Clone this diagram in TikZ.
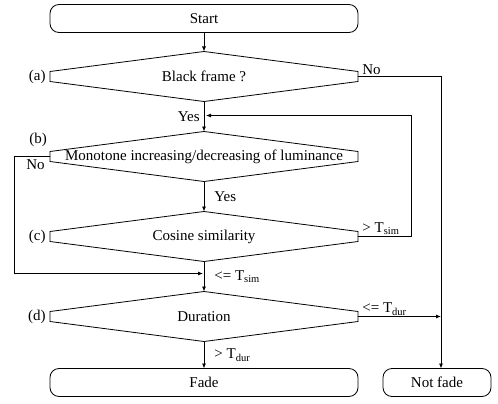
\documentclass[tikz,border=0pt]{standalone}
\usepackage{fontspec}
\setmainfont{Liberation Serif}
\usetikzlibrary{arrows.meta,positioning}
\tikzset{%
   term/.style={draw, rounded corners=9pt, minimum width=308pt, minimum height=28pt, inner sep=0pt, outer sep=0pt},
   test/.style={minimum width=308pt, minimum height=50pt, inner sep=0pt, outer sep=0pt},
   lbl/.style={inner sep=1pt},
   arr/.style={-{Latex[length=5pt,width=4pt]}},
}
\newcommand{\Tsub}[1]{T\textsubscript{#1}}

\begin{document}
\begin{tikzpicture}[font=\fontsize{15}{18}\selectfont, line width=0.8pt, node distance=30pt]
      \useasboundingbox (0,0) rectangle (498pt,-404pt);
      \node[term] (start) at (204pt,-18.5pt) {Start};
      \node[test, below=19pt of start] (a) {Black frame ?};
      \node[test, below=of a] (b) {Monotone increasing/decreasing of luminance};
      \node[test, below=of b] (c) {Cosine similarity};
      \node[test, below=of c] (d) {Duration};
      \node[term, below=27pt of d] (fade) {Fade};
      \node[term, right=25pt of fade, minimum width=108pt] (nf) {Not fade};
      % decision boxes
      \foreach \n in {a,b,c,d}
         \draw (\n.north) -- ([yshift=5pt]\n.east) -- ([yshift=-5pt]\n.east) -- (\n.south)
            -- ([yshift=-5pt]\n.west) -- ([yshift=5pt]\n.west) -- cycle;
      \node[lbl, left=3pt of a.west] {(a)};
      \node[lbl] at ([shift={(-12pt,17pt)}]b.west) {(b)};
      \node[lbl, left=3pt of c.west] {(c)};
      \node[lbl, left=3pt of d.west] {(d)};
      \coordinate[below=14pt of a.south, xshift=2pt] (fb);
      \coordinate[above=18pt of d.north, xshift=-1pt] (jn);
      \coordinate (nfin) at ([xshift=4pt]nf.north);
      \draw[arr] (start) -- (a);
      \draw[arr] (a) -- node[lbl, left=3pt] {Yes} (b);
      \draw[arr] (b) -- node[lbl, right=9pt] {Yes} (c);
      \draw[arr] (c) -- node[lbl, right=9pt] {<= \Tsub{sim}} (d);
      \draw[arr] (d) -- node[lbl, right=9pt] {> \Tsub{dur}} (fade);
      \draw[arr] (a.east) node[lbl, anchor=south west, xshift=3pt] {No} -| (nfin);
      \draw[arr] (c.east) node[lbl, anchor=south west, xshift=3pt] {> \Tsub{sim}} -- ++(53pt,0) |- (fb);
      \draw[arr] (b.west) node[lbl, anchor=north east, xshift=-4pt, yshift=-2pt] {No} -- ++(-36pt,0) |- (jn);
      \draw[arr] (d.east) node[lbl, anchor=south west, xshift=3pt] {<= \Tsub{dur}} -- (d.east -| nfin);
   \end{tikzpicture}
\end{document}
